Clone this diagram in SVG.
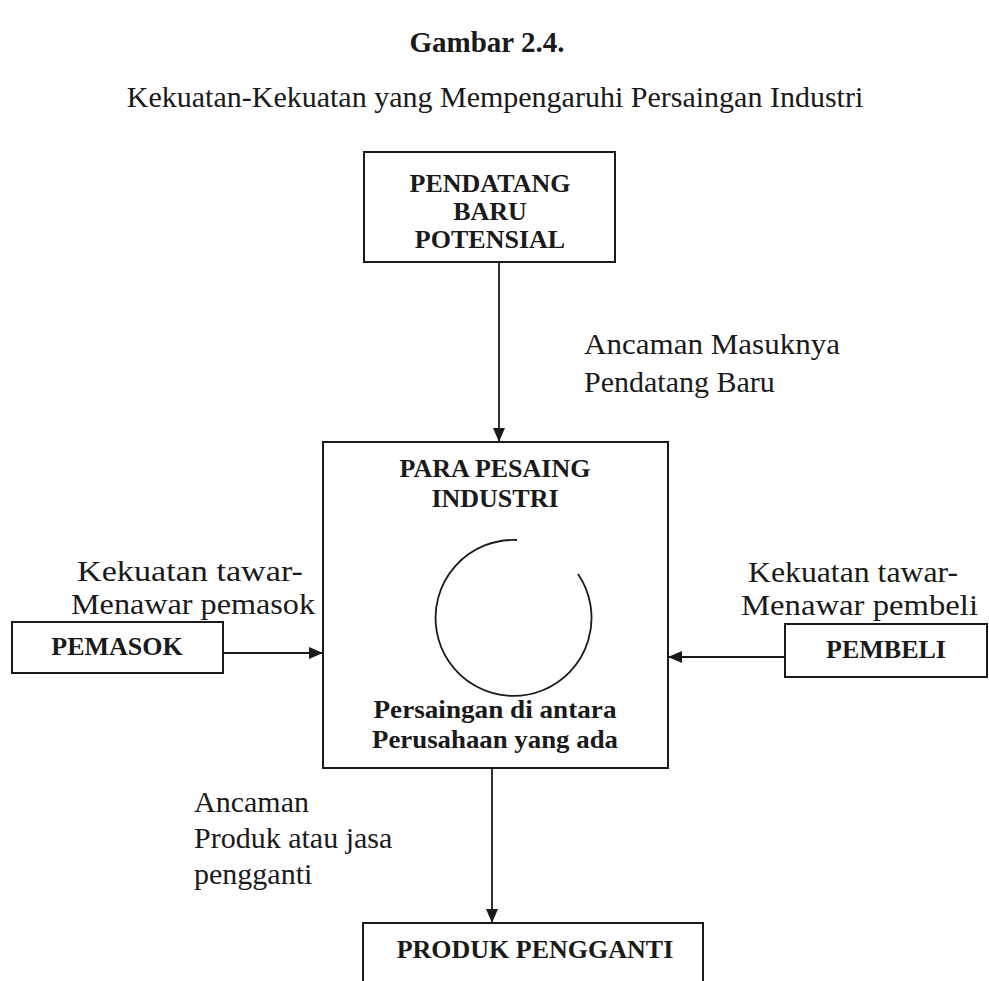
<svg xmlns="http://www.w3.org/2000/svg" width="989" height="981" viewBox="0 0 989 981">
<style>
.t{font-family:"Liberation Serif","Times New Roman",serif;fill:#1a1a1a}
.r{font-size:30px}
.b{font-size:26px;font-weight:bold}
.h{font-size:29px;font-weight:bold}
.box{fill:none;stroke:#1a1a1a;stroke-width:2}
.ln{fill:none;stroke:#1a1a1a;stroke-width:1.8}
</style>
<defs>
<marker id="ah" markerWidth="14" markerHeight="12" refX="13" refY="6" orient="auto" markerUnits="userSpaceOnUse">
<path d="M0,0 L14,6 L0,12 Z" fill="#1a1a1a"/>
</marker>
</defs>
<rect width="989" height="981" fill="#ffffff"/>
<g id="title">
<text class="t h" x="487" y="52" text-anchor="middle">Gambar 2.4.</text>
<text class="t r" x="495" y="107" text-anchor="middle">Kekuatan-Kekuatan yang Mempengaruhi Persaingan Industri</text>
</g>
<g id="connectors">
<line class="ln" x1="499" y1="262" x2="499" y2="441" marker-end="url(#ah)"/>
<line class="ln" x1="223" y1="653" x2="322" y2="653" marker-end="url(#ah)"/>
<line class="ln" x1="785" y1="657" x2="669" y2="657" marker-end="url(#ah)"/>
<line class="ln" x1="492" y1="768" x2="492" y2="922" marker-end="url(#ah)"/>
</g>
<g id="node-pendatang">
<rect class="box" x="364" y="152" width="251" height="110"/>
<text class="t b" x="490" y="192" text-anchor="middle">PENDATANG</text>
<text class="t b" x="490" y="220" text-anchor="middle">BARU</text>
<text class="t b" x="490" y="248" text-anchor="middle">POTENSIAL</text>
</g>
<g id="label-ancaman-masuk">
<text class="t r" x="584" y="354" textLength="256" lengthAdjust="spacingAndGlyphs">Ancaman Masuknya</text>
<text class="t r" x="584" y="392">Pendatang Baru</text>
</g>
<g id="node-pesaing">
<rect class="box" x="323" y="442" width="345" height="326"/>
<text class="t b" x="495" y="477" text-anchor="middle">PARA PESAING</text>
<text class="t b" x="495" y="507" text-anchor="middle">INDUSTRI</text>
<path class="ln" d="M517,540 A78,78 0 1 0 578,574"/>
<text class="t b" x="495" y="718" text-anchor="middle" textLength="243" lengthAdjust="spacingAndGlyphs">Persaingan di antara</text>
<text class="t b" x="495" y="748" text-anchor="middle" textLength="246" lengthAdjust="spacingAndGlyphs">Perusahaan yang ada</text>
</g>
<g id="label-pemasok">
<text class="t r" x="77" y="581" textLength="226" lengthAdjust="spacingAndGlyphs">Kekuatan tawar-</text>
<text class="t r" x="71" y="614" textLength="244" lengthAdjust="spacingAndGlyphs">Menawar pemasok</text>
</g>
<g id="node-pemasok">
<rect class="box" x="12" y="622" width="211" height="51"/>
<text class="t b" x="117" y="655" text-anchor="middle">PEMASOK</text>
</g>
<g id="label-pembeli">
<text class="t r" x="748" y="582" textLength="210" lengthAdjust="spacingAndGlyphs">Kekuatan tawar-</text>
<text class="t r" x="741" y="615" textLength="237" lengthAdjust="spacingAndGlyphs">Menawar pembeli</text>
</g>
<g id="node-pembeli">
<rect class="box" x="785" y="624" width="202" height="53"/>
<text class="t b" x="886" y="658" text-anchor="middle">PEMBELI</text>
</g>
<g id="label-ancaman-produk">
<text class="t r" x="194" y="812">Ancaman</text>
<text class="t r" x="194" y="848">Produk atau jasa</text>
<text class="t r" x="194" y="884">pengganti</text>
</g>
<g id="node-produk">
<path class="box" d="M363,985 L363,923 L703,923 L703,985"/>
<text class="t b" x="535" y="958" text-anchor="middle">PRODUK PENGGANTI</text>
</g>
</svg>
